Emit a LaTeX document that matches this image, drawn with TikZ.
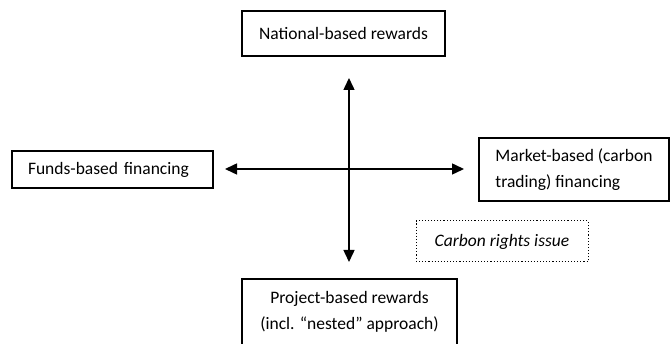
\documentclass[tikz,border=0pt]{standalone}
\usepackage{fontspec}
\setmainfont{Carlito}
\usetikzlibrary{arrows.meta}

\begin{document}
\begin{tikzpicture}[x=1pt, y=-1pt, font=\fontsize{17.5}{26}\selectfont,
	box/.style={draw, line width=1.1pt, inner sep=0pt, align=center},
	twoway/.style={{Triangle[length=12pt,width=11pt]}-{Triangle[length=12pt,width=11pt]}, line width=1.5pt}]
		\useasboundingbox (0,0) rectangle (670,344);
		
		\node[box, minimum width=203, minimum height=45] (nat) at (343.5,33.5) {National-based rewards};
		\node[box, text width=169pt, inner xsep=16pt, minimum height=37, align=left] (funds) at (112.5,169.5) {Funds-based financing};
		\node[box, minimum width=190, minimum height=63, align=left] (market) at (574,169.5) {Market-based (carbon\\trading) financing};
		\node[box, dotted, line width=1pt, minimum width=172, minimum height=41] (rights) at (502,241.5) {\itshape Carbon rights issue};
		\node[box, minimum width=215, minimum height=66] (proj) at (349.5,312) {Project-based rewards\\(incl. ``nested'' approach)};
		
		\coordinate (N) at (349,78);
		\coordinate (S) at (349,262);
		\coordinate (W) at (225,169);
		\coordinate (E) at (464,169);
		
		\draw[twoway] (N) -- (S);
		\draw[twoway] (W) -- (E);
	\end{tikzpicture}
\end{document}
